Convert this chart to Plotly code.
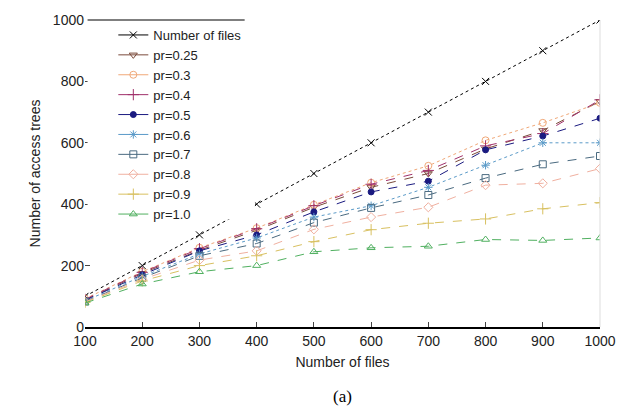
import plotly.graph_objects as go

x_files = [100, 200, 300, 400, 500, 600, 700, 800, 900, 1000]
num_files = [100, 200, 300, 400, 500, 600, 700, 800, 900, 1000]
pr_025 = [88, 175, 250, 315, 390, 455, 500, 580, 640, 735]
pr_03 = [92, 180, 258, 322, 398, 470, 525, 608, 665, 730]
pr_04 = [90, 178, 255, 320, 395, 465, 510, 590, 630, 740]
pr_05 = [87, 170, 248, 300, 375, 440, 475, 577, 622, 680]
pr_06 = [85, 165, 238, 290, 358, 395, 455, 527, 600, 600]
pr_07 = [83, 160, 232, 272, 340, 388, 430, 485, 530, 557]
pr_08 = [82, 155, 218, 248, 318, 358, 390, 462, 468, 516]
pr_09 = [80, 150, 200, 232, 278, 317, 338, 352, 385, 405]
pr_10 = [78, 140, 180, 200, 245, 258, 263, 285, 282, 290]

x_ticks = [100, 200, 300, 400, 500, 600, 700, 800, 900, 1000]
y_ticks = [0, 200, 400, 600, 800, 1000]

series = [
    ("Number of files", num_files, "#000000", "x-thin-open", "dot", 7),
    ("pr=0.25", pr_025, "#7a4a3a", "triangle-down-open", "dash", 7),
    ("pr=0.3", pr_03, "#f0a878", "circle-open", "dot", 7),
    ("pr=0.4", pr_04, "#a0306a", "cross-thin-open", "dash", 8),
    ("pr=0.5", pr_05, "#1a1a80", "circle", "dash", 6),
    ("pr=0.6", pr_06, "#5a9ac8", "asterisk-open", "dot", 7),
    ("pr=0.7", pr_07, "#4a6a80", "square-open", "dash", 7),
    ("pr=0.8", pr_08, "#f0b0a0", "diamond-open", "dash", 7),
    ("pr=0.9", pr_09, "#d8c060", "cross-thin-open", "dash", 8),
    ("pr=1.0", pr_10, "#50b060", "triangle-up-open", "dash", 7),
]

fig = go.Figure()
for name, ys, color, sym, dash, size in series:
    fig.add_trace(go.Scatter(
        x=x_files, y=ys, name=name, mode="lines+markers", showlegend=False,
        line=dict(color=color, width=1, dash=dash),
        marker=dict(symbol=sym, size=size, color=color, line=dict(color=color, width=1)),
    ))
# legend entries drawn with solid line samples, as in the reference
for name, ys, color, sym, dash, size in series:
    fig.add_trace(go.Scatter(
        x=[None], y=[None], name=name, mode="lines+markers", showlegend=True,
        line=dict(color=color, width=1),
        marker=dict(symbol=sym, size=size, color=color, line=dict(color=color, width=1)),
    ))

fig.update_layout(
    width=632, height=409,
    margin=dict(l=85, r=32, t=15, b=82),
    paper_bgcolor="white", plot_bgcolor="white",
    font=dict(family="Liberation Sans, Arial, sans-serif", size=14, color="#222"),
    showlegend=True,
    legend=dict(
        x=0.055, y=1.0, xanchor="left", yanchor="top",
        bgcolor="rgba(0,0,0,0)", borderwidth=0,
        font=dict(size=13, color="#222"),
        tracegroupgap=0,
    ),
    xaxis=dict(
        range=[100, 1000], tickvals=x_ticks, ticks="inside", ticklen=5,
        showline=True, linecolor="black", linewidth=1.5,
        showgrid=False, zeroline=False,
        title=dict(text="Number of files", font=dict(size=14), standoff=10),
        tickfont=dict(size=14),
    ),
    yaxis=dict(
        range=[0, 1000], tickvals=y_ticks, ticks="inside", ticklen=5,
        showline=False, showgrid=False, zeroline=False,
        title=dict(text="Number of access trees", font=dict(size=14), standoff=8),
        tickfont=dict(size=14),
    ),
    annotations=[dict(
        text="(a)", xref="paper", yref="paper", x=0.5, y=-0.228,
        showarrow=False, font=dict(family="Liberation Serif, Times New Roman, serif", size=17, color="black"),
        xanchor="center", yanchor="middle",
    )],
    shapes=[
        dict(type="rect", xref="paper", yref="paper", x0=0.005, x1=0.33, y0=0.35, y1=1,
             fillcolor="white", line=dict(width=0), layer="above"),
        dict(type="line", xref="paper", yref="paper", x0=0.005, x1=0.31, y0=1, y1=1,
             line=dict(color="black", width=1.2), layer="above"),
        dict(type="line", xref="paper", yref="paper", x0=1, x1=1, y0=0, y1=1,
             line=dict(color="#dddddd", width=1)),
    ],
)

fig.write_html("out.html")
